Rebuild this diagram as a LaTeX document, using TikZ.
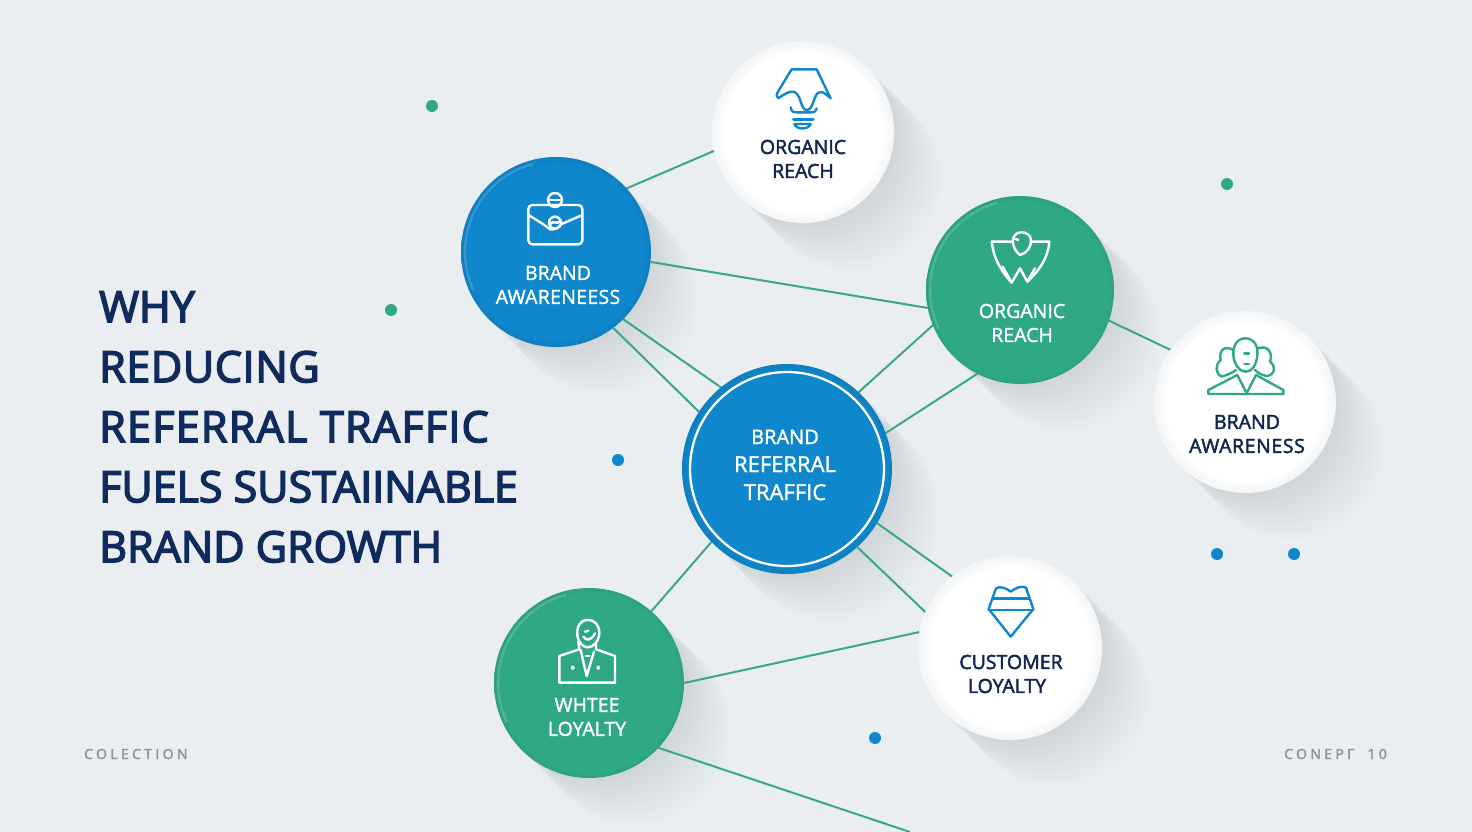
\documentclass[tikz,border=0pt]{standalone}
\usepackage{fontspec}
\setmainfont{Open Sans}
\usetikzlibrary{calc,backgrounds}
\definecolor{bgc}{HTML}{EAEEF0}
\definecolor{navy}{HTML}{0F2A5C}
\definecolor{inkc}{HTML}{10264F}
\definecolor{bluec}{HTML}{0F87CC}
\definecolor{greenc}{HTML}{2FA985}
\definecolor{linec}{HTML}{3AA884}
\definecolor{shadowc}{HTML}{6A7A98}
\definecolor{footc}{HTML}{8B959E}
\pgfdeclareradialshading{whitebtn}{\pgfpoint{0bp}{0bp}}{color(0bp)=(white);color(21.5bp)=(white);color(25bp)=(white!92!shadowc);color(50bp)=(white!92!shadowc)}
\pgfdeclareradialshading{bluebtn}{\pgfpoint{0bp}{0bp}}{color(0bp)=(bluec);color(23bp)=(bluec);color(25bp)=(bluec!94!black);color(50bp)=(bluec!94!black)}
\pgfdeclareradialshading{greenbtn}{\pgfpoint{0bp}{0bp}}{color(0bp)=(greenc);color(23.5bp)=(greenc);color(25bp)=(greenc!95!black);color(50bp)=(greenc!95!black)}
\pgfdeclarelayer{shadowlayer}
\pgfdeclarelayer{linelayer}
\pgfsetlayers{shadowlayer,linelayer,main}
\tikzset{
  btn/.style={circle,inner sep=0pt,outer sep=0pt,minimum size=#1},
  whitebutton/.style={shading=whitebtn},
  bluebutton/.style={shading=bluebtn},
  greenbutton/.style={shading=greenbtn},
  conn/.style={draw=linec,line width=2pt},
  lightlabel/.style={align=center,text=white,font=\fontsize{19.5}{24}\selectfont\addfontfeatures{FakeBold=1.5}},
  darklabel/.style={align=center,text=inkc,font=\fontsize{19.5}{24}\selectfont\addfontfeatures{FakeBold=2.2}},
  dotg/.style={circle,inner sep=0pt,minimum size=12pt,fill=greenc},
  dotb/.style={circle,inner sep=0pt,minimum size=12pt,fill=bluec},
  foot/.style={text=footc,font=\fontsize{14}{16}\selectfont\addfontfeatures{LetterSpace=24,FakeBold=2.5}},
  icon/.style={line width=2.4pt,line cap=round,line join=round},
  zoomed/.style={shift={#1},scale=1/3},
}
\newcommand{\btnshadow}[3]{%
  \begin{pgfonlayer}{shadowlayer}
    \foreach \o in {2,4,...,48}{\fill[shadowc,opacity=.0085] (#1+\o,#2+\o) circle (#3);}
  \end{pgfonlayer}}
\newcommand{\hlarc}[2]{\draw[white,opacity=.16,line width=2.4pt,line cap=round] (#1)++(-105:#2) arc (-105:-205:#2);}
\begin{document}
\begin{tikzpicture}[x=1pt,y=-1pt]
\useasboundingbox (0,0) rectangle (1472,832);
\begin{pgfonlayer}{shadowlayer}
  \fill[bgc] (0,0) rectangle (1472,832);
\end{pgfonlayer}

% shadows
\btnshadow{803}{132}{91}
\btnshadow{556}{252}{95}
\btnshadow{1020}{290}{94}
\btnshadow{1245}{402}{91}
\btnshadow{787}{469}{105}
\btnshadow{589}{683}{95}
\btnshadow{1010}{648}{92}

% buttons
\node[btn=182pt,whitebutton] (organicTop) at (803,132) {};
\node[btn=190pt,bluebutton] (aware) at (556,252) {};
\node[btn=188pt,greenbutton] (organicGreen) at (1020,290) {};
\node[btn=182pt,whitebutton] (awareRight) at (1245,402) {};
\node[btn=210pt,bluebutton] (hub) at (787,469) {};
\node[btn=190pt,greenbutton] (whtee) at (589,683) {};
\node[btn=184pt,whitebutton] (customer) at (1010,648) {};
\coordinate (offBottom) at (910,832);

\hlarc{aware.center}{91}
\hlarc{organicGreen.center}{90}
\hlarc{whtee.center}{91}
\draw[white,line width=2.3pt] (hub.center) circle (97);

% connectors
\begin{pgfonlayer}{linelayer}
  \draw[conn] (aware.42) -- (organicTop.192.4);
  \draw[conn] (aware.-6.5) -- (organicGreen.191.4);
  \draw[conn] (aware.-45.8) -- (hub.129.6);
  \draw[conn] (aware.-53.3) -- (hub.147.1);
  \draw[conn] (hub.47.7) -- (organicGreen.202.7);
  \draw[conn] (hub.20.2) -- (organicGreen.243.7);
  \draw[conn] (organicGreen.-19) -- (awareRight.145.3);
  \draw[conn] (hub.-31.9) -- (customer.129.4);
  \draw[conn] (hub.-48.1) -- (customer.157.3);
  \draw[conn] (hub.224.6) -- (whtee.49.7);
  \draw[conn] (whtee.0.6) -- (customer.170.8);
  \draw[conn] (whtee.-43.3) -- (offBottom);
\end{pgfonlayer}

% labels
\node[darklabel] (l1) at (803,159) {ORGANIC\\REACH};
\node[lightlabel] (l2) at (558,285) {BRAND\\\addfontfeatures{LetterSpace=1.5}AWARENEESS};
\node[lightlabel] (l3) at (1022,323) {ORGANIC\\REACH};
\node[darklabel] (l4) at (1247,434) {BRAND\\\addfontfeatures{LetterSpace=3}AWARENESS};
\node[lightlabel,font=\fontsize{22}{28}\selectfont\addfontfeatures{FakeBold=1.5}] (l5) at (785,465) {{\fontsize{20}{28}\selectfont BRAND}\\REFERRAL\\TRAFFIC};
\node[lightlabel] (l6) at (587,717) {WHTEE\\LOYALTY};
\node[darklabel] (l7) at (1011,674) {CUSTOMER\\LOYALTY\hspace*{8pt}};

% title
\node[anchor=west,inner sep=0pt,align=left,text=navy,font=\fontsize{43}{60}\selectfont\addfontfeatures{FakeBold=3.5}] (title) at (99,427)
  {WHY\\{\addfontfeatures{LetterSpace=1.5}REDUCING}\\{\addfontfeatures{LetterSpace=3}REFERRAL TRAFFIC}\\FUELS SUSTAIINABLE\\BRAND GROWTH};

% footers
\node[foot,anchor=west,inner sep=0pt] (footL) at (84,754) {COLECTION};
\node[foot,anchor=west,inner sep=0pt] (footR) at (1284,754) {CONEPГ\hspace{6pt} 10};

% dots
\node[dotg] (d1) at (432,106) {};
\node[dotg] (d2) at (1227,184) {};
\node[dotg] (d3) at (391,310) {};
\node[dotb] (d4) at (618,460) {};
\node[dotb] (d5) at (1217,554) {};
\node[dotb] (d6) at (1294,554) {};
\node[dotb] (d7) at (875,738) {};

% icon: bulb
\begin{scope}[zoomed={(700,30)},icon,draw=bluec]
  \draw (235,205) .. controls (226,195) and (232,190) .. (237,180) -- (275,118) -- (350,118) -- (392,205)
        .. controls (375,190) and (365,180) .. (352,190) .. controls (340,205) and (338,240) .. (320,240)
        .. controls (300,240) and (305,190) .. (280,185) .. controls (265,183) and (250,195) .. (235,205);
  \draw (272,232) .. controls (274,245) and (280,247) .. (290,247) -- (335,247) .. controls (345,247) and (350,240) .. (350,235);
  \draw (280,268) -- (340,268);
  \draw (283,282) -- (332,282) .. controls (325,300) and (290,300) .. (283,282);
\end{scope}

% icon: briefcase
\begin{scope}[zoomed={(450,150)},icon,draw=white]
  \draw[rounded corners=4pt] (235,165) rectangle (397,283);
  \draw (235,195) .. controls (260,210) and (285,225) .. (300,238) .. controls (310,240) and (325,235) .. (335,222) -- (397,195);
  \draw (315,218) circle (18);
  \draw (300,225) .. controls (310,205) and (320,230) .. (332,210);
  \draw (315,150) circle (21);
  \draw (300,150) -- (332,150);
\end{scope}

% icon: shield
\begin{scope}[zoomed={(920,190)},icon,draw=white]
  \draw (275,155) -- (215,155) .. controls (220,200) and (240,240) .. (275,278) -- (300,235) -- (322,275) .. controls (360,240) and (385,200) .. (388,155) -- (335,155);
  \draw (275,278) -- (248,230);
  \draw (322,275) -- (345,235);
  \draw (300,195) .. controls (280,180) and (272,150) .. (285,135) .. controls (300,120) and (330,125) .. (333,150) .. controls (335,170) and (320,190) .. (300,195);
  \draw (280,145) -- (295,150);
\end{scope}

% icon: person group
\begin{scope}[zoomed={(1150,310)},icon,draw=greenc]
  \draw (285,85) .. controls (260,85) and (248,110) .. (250,135) .. controls (252,165) and (270,185) .. (287,185) .. controls (305,185) and (320,165) .. (322,135) .. controls (325,105) and (310,85) .. (285,85);
  \draw (250,120) .. controls (225,105) and (205,120) .. (212,150) .. controls (195,165) and (195,190) .. (215,200) .. controls (230,195) and (245,190) .. (258,180);
  \draw (325,115) .. controls (350,105) and (370,125) .. (360,155) .. controls (380,170) and (375,195) .. (350,198) .. controls (335,195) and (325,190) .. (315,180);
  \draw (262,195) -- (175,240) -- (175,252) -- (400,252) -- (400,240) -- (318,195);
  \draw (262,195) -- (290,250) -- (318,195);
  \draw (283,130) -- (297,130);
  \draw (283,162) -- (297,162);
\end{scope}

% icon: man in suit
\begin{scope}[zoomed={(490,590)},icon,draw=white]
  \draw (293,90) .. controls (270,90) and (260,110) .. (262,135) .. controls (265,160) and (280,172) .. (293,172) .. controls (310,172) and (326,155) .. (328,130) .. controls (328,105) and (315,90) .. (293,90);
  \draw (280,140) .. controls (290,155) and (305,150) .. (315,130);
  \draw (285,125) -- (295,122);
  \draw (265,155) -- (268,178) -- (208,198) -- (208,278) -- (375,278) -- (375,198) -- (318,178) -- (318,160);
  \draw (272,180) -- (290,258) -- (312,185);
  \draw (288,198) -- (298,198);
  \draw[fill=white] (248,233) circle (3);
  \draw[fill=white] (325,233) circle (3);
\end{scope}

% icon: crest
\begin{scope}[zoomed={(910,555)},icon,draw=bluec]
  \draw (236,162) -- (258,100) .. controls (270,92) and (290,100) .. (302,110) .. controls (315,100) and (335,90) .. (348,98) -- (370,162) -- (302,245) -- cycle;
  \draw (248,130) -- (358,130);
  \draw (236,165) -- (370,165);
\end{scope}
\end{tikzpicture}
\end{document}
